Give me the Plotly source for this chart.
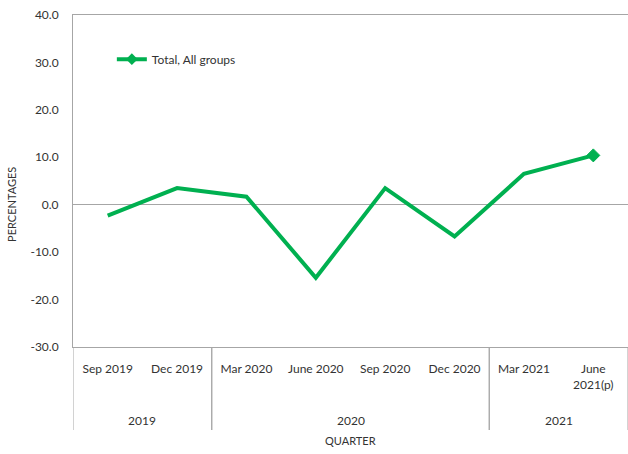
import plotly.graph_objects as go

quarters = ["Sep 2019", "Dec 2019", "Mar 2020", "June 2020", "Sep 2020", "Dec 2020", "Mar 2021", "June<br>2021(p)"]
years = ["2019", "2019", "2020", "2020", "2020", "2020", "2021", "2021"]
values = [-2.3, 3.5, 1.7, -15.4, 3.5, -6.7, 6.5, 10.4]
y_ticks = [-30, -20, -10, 0, 10, 20, 30, 40]
series_name = "Total, All groups"

FONT = "Lato"
GREEN = "#00B050"
AXIS = "#A6A6A6"
TXT = "#333333"

n = len(quarters)
marker_sizes = [0] * (n - 1) + [10]

fig = go.Figure()
fig.add_trace(go.Scatter(
    x=list(range(n)), y=values, mode="lines+markers",
    name=series_name, showlegend=False,
    line=dict(color=GREEN, width=4),
    marker=dict(symbol="diamond", size=marker_sizes, color=GREEN, opacity=1,
                line=dict(width=1, color=GREEN)),
))
# legend entry
fig.add_trace(go.Scatter(
    x=[None], y=[None], mode="lines+markers", name=series_name,
    line=dict(color=GREEN, width=4),
    marker=dict(symbol="diamond", size=9, color=GREEN, line=dict(width=0)),
))

# year groups: boundaries and centres
groups = []
start = 0
for i in range(1, n + 1):
    if i == n or years[i] != years[start]:
        groups.append((years[start], start, i - 1))
        start = i

shapes = []
annotations = []
for yr, a, b in groups:
    annotations.append(dict(x=(a + b) / 2, y=-0.22, xref="x", yref="paper",
                            text=yr, showarrow=False, yanchor="middle",
                            font=dict(family=FONT, size=12, color=TXT)))
    for bx in (a - 0.5, b + 0.5):
        shapes.append(dict(type="line", xref="x", yref="paper", x0=bx, x1=bx,
                           y0=0, y1=-0.25, line=dict(color=AXIS, width=1)))

annotations.append(dict(x=0.5, y=-0.283, xref="paper", yref="paper", text="QUARTER",
                        showarrow=False, yanchor="middle",
                        font=dict(family=FONT, size=11, color=TXT)))
annotations.append(dict(x=-61 / 555, y=0.428, xref="paper", yref="paper", text="PERCENTAGES",
                        showarrow=False, textangle=-90, xanchor="center", yanchor="middle",
                        font=dict(family=FONT, size=11, color=TXT)))

fig.update_layout(
    width=628, height=454,
    margin=dict(l=73, r=0, t=15, b=107, autoexpand=False),
    paper_bgcolor="white", plot_bgcolor="white",
    font=dict(family=FONT, size=12, color=TXT),
    showlegend=True,
    legend=dict(x=0.07, y=0.867, xanchor="left", yanchor="middle",
                bgcolor="rgba(0,0,0,0)", font=dict(family=FONT, size=12, color=TXT),
                itemwidth=30),
    shapes=shapes,
    annotations=annotations,
)
fig.update_xaxes(
    automargin=False,
    tickmode="array", tickvals=list(range(n)), ticktext=quarters,
    range=[-0.5, n - 0.5], showgrid=False, zeroline=False,
    showline=True, linecolor=AXIS, linewidth=1, mirror=True,
    ticks="", ticklabelstandoff=11, tickangle=0,
    tickfont=dict(family=FONT, size=12, color=TXT),
)
fig.update_yaxes(
    automargin=False, ticklabeloverflow="allow",
    range=[-30, 40], tickmode="array", tickvals=y_ticks,
    ticktext=[f"{v:.1f}" for v in y_ticks],
    showgrid=False, zeroline=True, zerolinecolor=AXIS, zerolinewidth=1,
    showline=True, linecolor=AXIS, linewidth=1, mirror=True,
    ticks="", ticklabelstandoff=11,
    tickfont=dict(family=FONT, size=12, color=TXT),
)

fig.write_html("out.html", config={"displayModeBar": False},
               post_script="document.body.style.margin='0px';")
